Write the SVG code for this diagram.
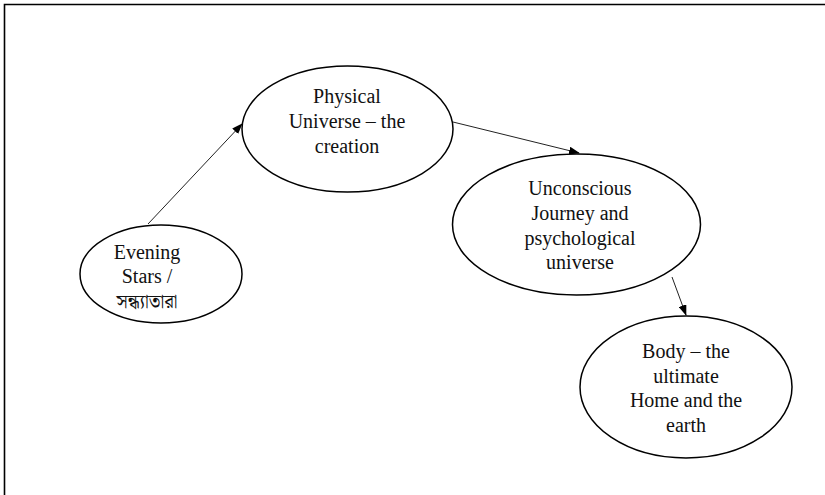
<svg xmlns="http://www.w3.org/2000/svg" width="825" height="495" viewBox="0 0 825 495">
  <style>
    .node ellipse { fill: #ffffff; stroke: #000000; stroke-width: 1.5; }
    .node text { font-family: "Liberation Serif", "Times New Roman", serif; font-size: 20px; fill: #111111; text-anchor: middle; }
    .node text.bn { font-family: "Noto Serif Bengali", "Noto Sans Bengali", "Lohit Bengali", "FreeSerif", "Liberation Serif", serif; font-size: 18.5px; }
    .edge { stroke: #222222; stroke-width: 1; fill: none; marker-end: url(#arrow); }
    .frame { stroke: #000000; stroke-width: 1.6; fill: none; }
  </style>
  <defs>
    <marker id="arrow" markerWidth="11" markerHeight="8" refX="10" refY="4" orient="auto" markerUnits="userSpaceOnUse">
      <path d="M0,0 L11,4 L0,8 Z" fill="#000000"/>
    </marker>
  </defs>

  <rect width="825" height="495" fill="#ffffff"/>
  <!-- page frame: top and left rule -->
  <path class="frame" d="M4.5,495 V4.5 H825"/>

  <g id="connectors">
    <line class="edge" x1="148" y1="224" x2="242" y2="124"/>
    <line class="edge" x1="453" y1="122" x2="579" y2="153"/>
    <line class="edge" x1="672" y1="277" x2="686" y2="315"/>
  </g>

  <g id="evening-stars" class="node">
    <ellipse cx="161" cy="274" rx="81" ry="49"/>
    <text x="147" y="259">Evening</text>
    <text x="147" y="283">Stars /</text>
    <text x="147" y="308" class="bn">সন্ধ্যাতারা</text>
  </g>

  <g id="physical-universe" class="node">
    <ellipse cx="347.5" cy="129" rx="105.5" ry="63"/>
    <text x="347" y="103">Physical</text>
    <text x="347" y="128">Universe  – the</text>
    <text x="347" y="153">creation</text>
  </g>

  <g id="unconscious-journey" class="node">
    <ellipse cx="576.5" cy="224.5" rx="124" ry="70.5"/>
    <text x="580" y="195">Unconscious</text>
    <text x="580" y="220">Journey and</text>
    <text x="580" y="245">psychological</text>
    <text x="580" y="269">universe</text>
  </g>

  <g id="body-home" class="node">
    <ellipse cx="686" cy="387" rx="106" ry="71"/>
    <text x="686" y="358">Body – the</text>
    <text x="686" y="383">ultimate</text>
    <text x="686" y="407">Home and the</text>
    <text x="686" y="432">earth</text>
  </g>
</svg>
